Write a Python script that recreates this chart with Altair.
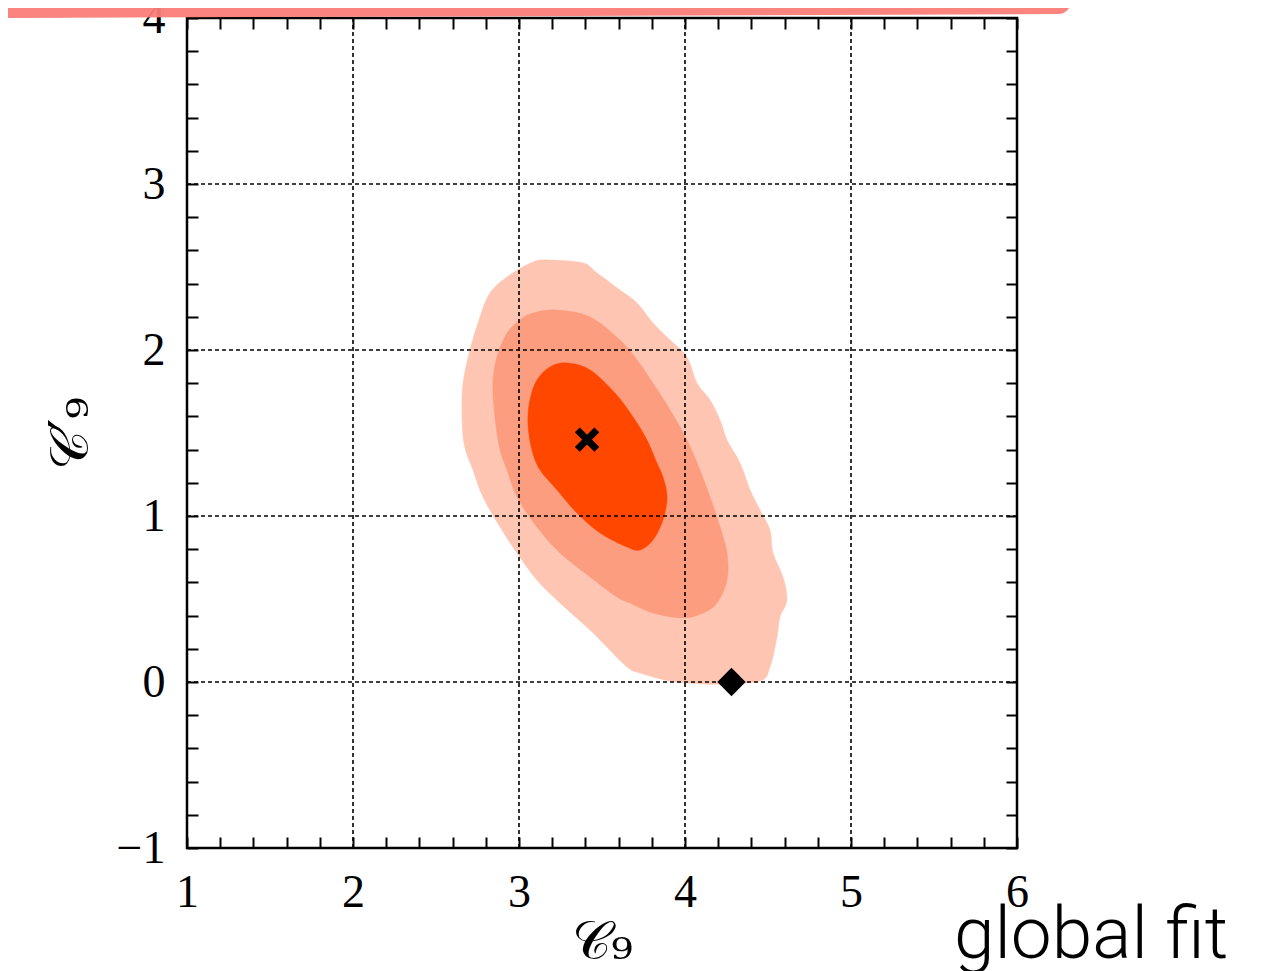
import altair as alt
import pandas as pd

# ---- contour outlines (C9, C9') ----
outer_x = [3.187, 3.084, 2.928, 2.825, 2.765, 2.705, 2.663, 2.657, 2.672, 2.723, 2.783, 2.886,
           2.988, 3.108, 3.247, 3.428, 3.506, 3.651, 3.729, 3.910, 4.108, 4.211, 4.452, 4.512,
           4.554, 4.572, 4.614, 4.590, 4.530, 4.512, 4.452, 4.392, 4.349, 4.313, 4.253, 4.211,
           4.151, 4.072, 4.012, 3.910, 3.807, 3.711, 3.608, 3.470, 3.386]
outer_y = [2.542, 2.530, 2.440, 2.343, 2.199, 2.000, 1.801, 1.596, 1.420, 1.277, 1.114, 0.934,
           0.777, 0.614, 0.476, 0.313, 0.235, 0.090, 0.054, 0.006, -0.012, -0.012, 0.006, 0.090,
           0.271, 0.392, 0.494, 0.633, 0.777, 0.916, 1.036, 1.157, 1.277, 1.355, 1.458, 1.578,
           1.699, 1.801, 1.958, 2.060, 2.163, 2.283, 2.361, 2.464, 2.524]

mid_x = [3.229, 3.084, 3.006, 2.928, 2.867, 2.843, 2.855, 2.886, 2.928, 2.988, 3.108, 3.247,
         3.428, 3.590, 3.669, 3.807, 3.988, 4.108, 4.193, 4.253, 4.253, 4.211, 4.151, 4.090,
         4.012, 3.910, 3.807, 3.711, 3.608, 3.428]
mid_y = [2.241, 2.223, 2.181, 2.102, 1.958, 1.801, 1.596, 1.398, 1.277, 1.114, 0.934, 0.777,
         0.633, 0.512, 0.476, 0.416, 0.386, 0.416, 0.476, 0.614, 0.777, 0.934, 1.114, 1.277,
         1.458, 1.639, 1.801, 1.940, 2.060, 2.199]

inner_x = [3.289, 3.187, 3.108, 3.066, 3.054, 3.078, 3.127, 3.229, 3.349, 3.488, 3.651, 3.729,
           3.807, 3.867, 3.892, 3.867, 3.831, 3.771, 3.687, 3.578, 3.428]
inner_y = [1.922, 1.898, 1.819, 1.699, 1.560, 1.398, 1.277, 1.157, 1.018, 0.898, 0.813, 0.795,
           0.855, 0.976, 1.114, 1.235, 1.319, 1.458, 1.596, 1.741, 1.880]

best_x = [3.41]
best_y = [1.46]
sm_x = [4.28]
sm_y = [0.0]

x_ticks = [1, 1.2, 1.4, 1.6, 1.8, 2, 2.2, 2.4, 2.6, 2.8, 3, 3.2, 3.4, 3.6, 3.8, 4,
           4.2, 4.4, 4.6, 4.8, 5, 5.2, 5.4, 5.6, 5.8, 6]
y_ticks = [-1, -0.8, -0.6, -0.4, -0.2, 0, 0.2, 0.4, 0.6, 0.8, 1, 1.2, 1.4, 1.6, 1.8, 2,
           2.2, 2.4, 2.6, 2.8, 3, 3.2, 3.4, 3.6, 3.8, 4]
grid_x = [2, 3, 4, 5]
grid_y = [0, 1, 2, 3]

brush_x = [-0.13, 6.25]
brush_y = [4.072, 4.096]

note_x = [5.62]
note_y = [-1.66]
note_text = ["global fit"]

x_title = "𝒞₉"
y_title = "𝒞′₉"

XS = alt.Scale(domain=[1, 6], nice=False, zero=False)
YS = alt.Scale(domain=[-1, 4], nice=False, zero=False)


def poly(xs, ys):
    return pd.DataFrame({"x": xs, "y": ys, "i": list(range(len(xs)))})


def contour(xs, ys, color):
    return alt.Chart(poly(xs, ys)).mark_line(
        filled=True, fill=color, stroke=color, strokeWidth=0.5, interpolate="cardinal-closed"
    ).encode(
        x=alt.X("x:Q", scale=XS, axis=None),
        y=alt.Y("y:Q", scale=YS, axis=None),
        order=alt.Order("i:Q"),
    )


outer = contour(outer_x, outer_y, "#fdc5b2")
middle = contour(mid_x, mid_y, "#fc9d80")
inner = contour(inner_x, inner_y, "#ff4700")

grid_v = alt.Chart(pd.DataFrame({"g": grid_x})).mark_rule(
    color="black", strokeWidth=1.6, strokeDash=[4, 3]
).encode(x=alt.X("g:Q", scale=XS, axis=None))
grid_h = alt.Chart(pd.DataFrame({"g": grid_y})).mark_rule(
    color="black", strokeWidth=1.6, strokeDash=[4, 3]
).encode(y=alt.Y("g:Q", scale=YS, axis=None))

label_expr = "abs(datum.value - round(datum.value)) < 0.001 ? format(datum.value, 'd') : ''"

tick_df = pd.DataFrame({"x": x_ticks, "y": y_ticks})

axes_main = alt.Chart(tick_df).mark_point(opacity=0).encode(
    x=alt.X("x:Q", scale=XS, axis=alt.Axis(
        orient="bottom", values=x_ticks, tickSize=11, tickWidth=2, tickColor="black",
        domain=False, grid=False, offset=-11, labelExpr=label_expr, labelOverlap=False,
        labelFlush=False, labelBound=False,
        labelFont="Liberation Serif", labelFontSize=46, labelColor="black", labelPadding=22,
        title=x_title, titleFont="DejaVu Serif", titleFontSize=54, titleFontWeight="normal",
        titleColor="black", titlePadding=0,
    )),
    y=alt.Y("y:Q", scale=YS, axis=alt.Axis(
        orient="left", values=y_ticks, tickSize=11, tickWidth=2, tickColor="black",
        domain=False, grid=False, offset=-11, labelExpr=label_expr, labelOverlap=False,
        labelFlush=False, labelBound=False,
        labelFont="Liberation Serif", labelFontSize=46, labelColor="black", labelPadding=22,
        title=y_title, titleFont="DejaVu Serif", titleFontSize=54, titleFontWeight="normal",
        titleColor="black", titlePadding=18,
    )),
)

axes_other = alt.Chart(tick_df).mark_point(opacity=0).encode(
    x=alt.X("x:Q", scale=XS, axis=alt.Axis(
        orient="top", values=x_ticks, tickSize=11, tickWidth=2, tickColor="black",
        domain=False, grid=False, offset=-11, labels=False, title=None,
    )),
    y=alt.Y("y:Q", scale=YS, axis=alt.Axis(
        orient="right", values=y_ticks, tickSize=11, tickWidth=2, tickColor="black",
        domain=False, grid=False, offset=-11, labels=False, title=None,
    )),
)

best = alt.Chart(pd.DataFrame({"x": best_x, "y": best_y})).mark_point(
    shape="M-1,-1L1,1M1,-1L-1,1", filled=False, stroke="black", strokeWidth=7,
    size=380, opacity=1,
).encode(x=alt.X("x:Q", scale=XS, axis=None), y=alt.Y("y:Q", scale=YS, axis=None))

sm = alt.Chart(pd.DataFrame({"x": sm_x, "y": sm_y})).mark_point(
    shape="diamond", filled=True, color="black", size=800, opacity=1,
).encode(x=alt.X("x:Q", scale=XS, axis=None), y=alt.Y("y:Q", scale=YS, axis=None))

brush = alt.Chart(pd.DataFrame({"x": brush_x, "y": brush_y})).mark_line(
    color="#fb7d77", strokeWidth=24, strokeCap="round", opacity=0.95,
).encode(x=alt.X("x:Q", scale=XS, axis=None), y=alt.Y("y:Q", scale=YS, axis=None))

note = alt.Chart(pd.DataFrame({"x": note_x, "y": note_y, "t": note_text})).mark_text(
    align="left", baseline="alphabetic", font="Roboto", fontWeight=300, fontSize=73,
    color="black",
).encode(x=alt.X("x:Q", scale=XS, axis=None), y=alt.Y("y:Q", scale=YS, axis=None), text="t:N")

chart = alt.layer(
    outer, middle, inner, grid_v, grid_h, axes_main, axes_other, best, sm, brush, note
).resolve_axis(x="independent", y="independent").properties(
    width=830, height=830,
    padding={"left": 179, "top": 10, "right": 244, "bottom": 125},
    autosize="none",
).configure_view(stroke="black", strokeWidth=2.5)

chart.save("out.html", embed_options={"renderer": "svg", "actions": False})
